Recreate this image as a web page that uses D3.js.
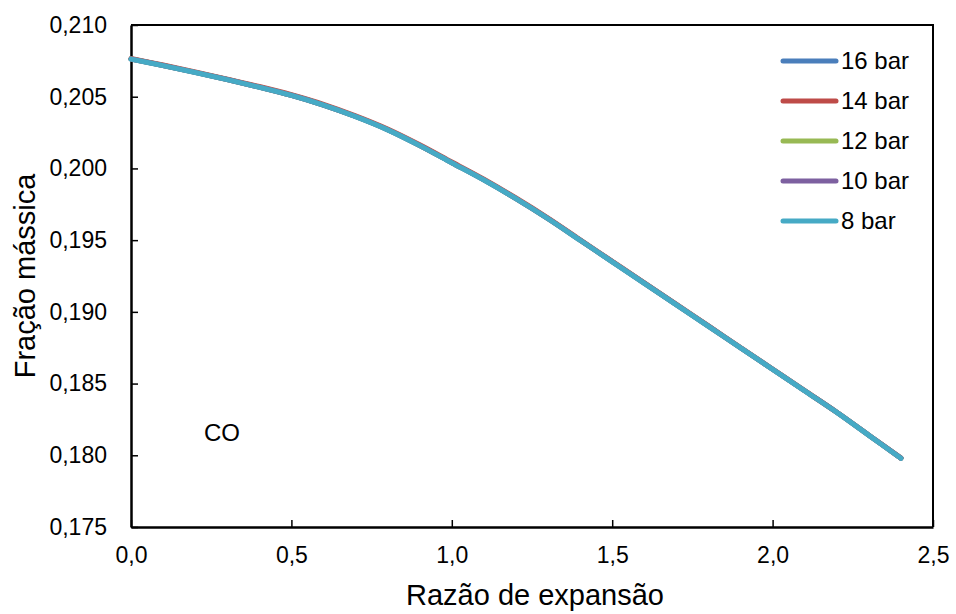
<!DOCTYPE html>
<html>
<head>
    <meta charset="utf-8">
    <script src="https://d3js.org/d3.v7.min.js"></script>
    <style>
        body { margin: 0; background: #fff; }
        text { font-family: "Liberation Sans", Arial, sans-serif; fill: #000; }
    </style>
</head>
<body>
    <script>
        // razão de expansão
        var xValues = [0.0, 0.1, 0.2, 0.3, 0.4, 0.5, 0.6, 0.7, 0.8, 0.9, 1.0, 1.1, 1.2,
            1.3, 1.4, 1.5, 1.6, 1.7, 1.8, 1.9, 2.0, 2.1, 2.2, 2.3, 2.4];

        // fração mássica de CO por pressão (as curvas quase se sobrepõem)
        var co16 = [0.20763, 0.20718, 0.20670, 0.20620, 0.20567, 0.20510, 0.20442, 0.20362, 0.20270, 0.20160,
            0.20040, 0.19920, 0.19790, 0.19650, 0.19500, 0.19350, 0.19200, 0.19050, 0.18900, 0.18750,
            0.18600, 0.18450, 0.18300, 0.18140, 0.17980];
        var co14 = [0.20766, 0.20721, 0.20673, 0.20623, 0.20571, 0.20514, 0.20447, 0.20367, 0.20275, 0.20165,
            0.20045, 0.19925, 0.19794, 0.19654, 0.19503, 0.19353, 0.19203, 0.19052, 0.18902, 0.18751,
            0.18601, 0.18451, 0.18300, 0.18140, 0.17980];
        var co12 = [0.20763, 0.20718, 0.20670, 0.20620, 0.20567, 0.20510, 0.20442, 0.20362, 0.20270, 0.20160,
            0.20040, 0.19920, 0.19790, 0.19650, 0.19500, 0.19350, 0.19200, 0.19050, 0.18900, 0.18750,
            0.18600, 0.18450, 0.18300, 0.18140, 0.17980];
        var co10 = [0.20763, 0.20718, 0.20670, 0.20620, 0.20567, 0.20510, 0.20442, 0.20362, 0.20270, 0.20160,
            0.20040, 0.19920, 0.19790, 0.19650, 0.19500, 0.19350, 0.19200, 0.19050, 0.18900, 0.18750,
            0.18600, 0.18450, 0.18300, 0.18140, 0.17980];
        var co8 = [0.20762, 0.20717, 0.20669, 0.20619, 0.20566, 0.20509, 0.20441, 0.20361, 0.20269, 0.20159,
            0.20039, 0.19919, 0.19789, 0.19649, 0.19499, 0.19349, 0.19199, 0.19049, 0.18899, 0.18749,
            0.18599, 0.18449, 0.18299, 0.18139, 0.17979];

        var seriesNames = ["16 bar", "14 bar", "12 bar", "10 bar", "8 bar"];
        var seriesValues = [co16, co14, co12, co10, co8];
        var colors = ["#4a7ebb", "#be4b48", "#98b954", "#7d60a0", "#46aac5"];

        var xTicks = [0, 0.5, 1.0, 1.5, 2.0, 2.5];
        var yTicks = [0.175, 0.180, 0.185, 0.190, 0.195, 0.200, 0.205, 0.210];

        var width = 956, height = 614;
        var margin = { left: 131, right: 23, top: 25, bottom: 87 };

        var svg = d3.select("body").append("svg")
            .attr("width", width)
            .attr("height", height);

        var x = d3.scaleLinear().domain([0, 2.5]).range([margin.left, width - margin.right]);
        var y = d3.scaleLinear().domain([0.175, 0.210]).range([height - margin.bottom, margin.top]);

        var comma = function (fmt) {
            var f = d3.format(fmt);
            return function (d) { return f(d).replace(".", ","); };
        };

        // frame (top and right)
        svg.append("path")
            .attr("d", "M" + x(0) + "," + y(0.210) + "H" + x(2.5) + "V" + y(0.175))
            .attr("fill", "none")
            .attr("stroke", "#000")
            .attr("stroke-width", 2);

        var xAxis = svg.append("g")
            .attr("transform", "translate(0," + y(0.175) + ")")
            .call(d3.axisBottom(x).tickValues(xTicks).tickFormat(comma(".1f"))
                .tickSizeInner(-7).tickSizeOuter(0).tickPadding(20));

        var yAxis = svg.append("g")
            .attr("transform", "translate(" + x(0) + ",0)")
            .call(d3.axisLeft(y).tickValues(yTicks).tickFormat(comma(".3f"))
                .tickSizeInner(-7).tickSizeOuter(0).tickPadding(24));

        svg.selectAll(".domain").attr("stroke", "#000").attr("stroke-width", 2.5);
        svg.selectAll(".tick line").attr("stroke", "#000").attr("stroke-width", 1.5);
        svg.selectAll(".tick text")
            .style("font-family", "'Liberation Sans', Arial, sans-serif")
            .style("font-size", "23px")
            .attr("fill", "#000");
        xAxis.selectAll(".tick text").attr("dy", "0.71em");

        var line = d3.line()
            .x(function (d, i) { return x(xValues[i]); })
            .y(function (d) { return y(d); })
            .curve(d3.curveCatmullRom.alpha(0.5));

        svg.append("g").selectAll("path")
            .data(seriesValues)
            .join("path")
            .attr("d", line)
            .attr("fill", "none")
            .attr("stroke", function (d, i) { return colors[i]; })
            .attr("stroke-width", 5)
            .attr("stroke-linecap", "round");

        // legend
        var legend = svg.append("g").selectAll("g")
            .data(seriesNames)
            .join("g")
            .attr("transform", function (d, i) { return "translate(783," + (61 + i * 40) + ")"; });

        legend.append("line")
            .attr("x1", 0).attr("x2", 53)
            .attr("stroke", function (d, i) { return colors[i]; })
            .attr("stroke-width", 5)
            .attr("stroke-linecap", "round");

        legend.append("text")
            .attr("x", 58)
            .attr("dy", "0.35em")
            .style("font-size", "24px")
            .text(function (d) { return d; });

        svg.append("text")
            .attr("x", 222)
            .attr("y", 441)
            .attr("text-anchor", "middle")
            .style("font-size", "24px")
            .text("CO");

        svg.append("text")
            .attr("x", 535)
            .attr("y", 605)
            .attr("text-anchor", "middle")
            .style("font-size", "29px")
            .text("Razão de expansão");

        svg.append("text")
            .attr("transform", "translate(35," + ((margin.top + height - margin.bottom) / 2) + ") rotate(-90)")
            .attr("text-anchor", "middle")
            .style("font-size", "29px")
            .text("Fração mássica");
    </script>
</body>
</html>
